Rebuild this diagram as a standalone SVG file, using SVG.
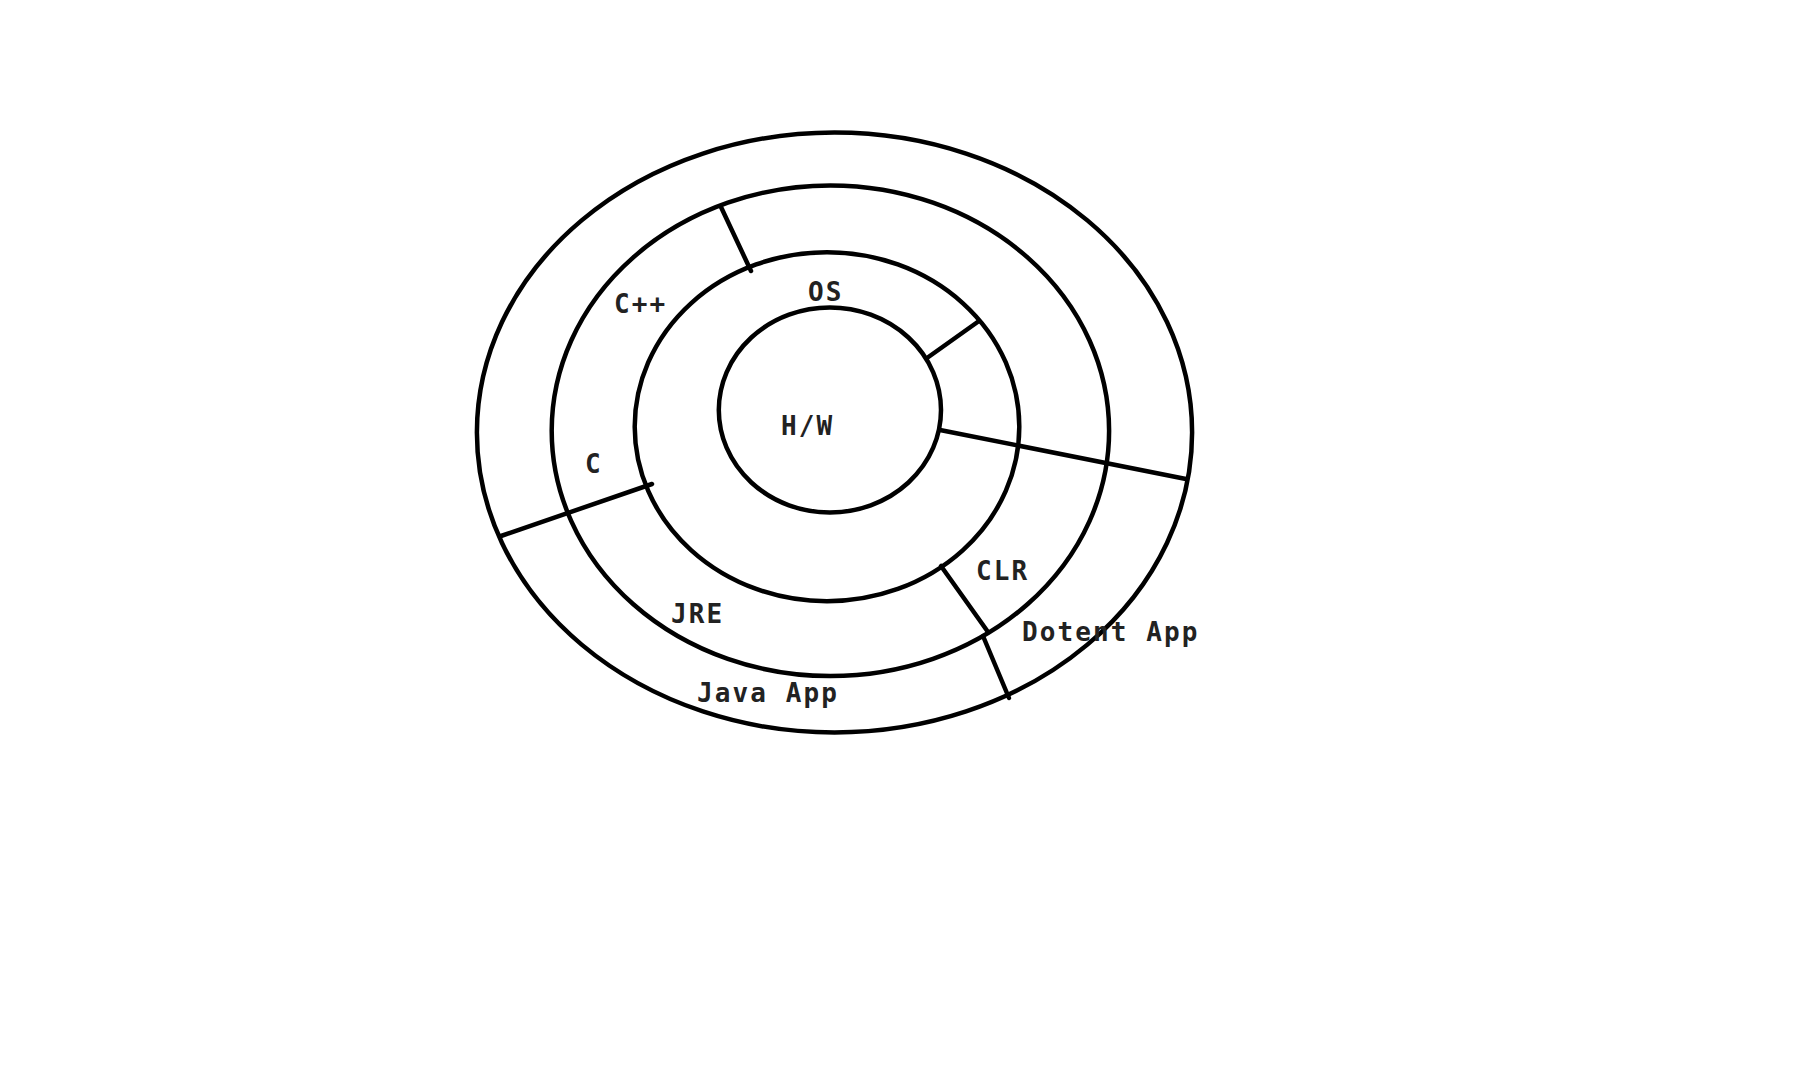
<svg xmlns="http://www.w3.org/2000/svg" width="1806" height="1082" viewBox="0 0 1806 1082">
<style>
.ring{fill:none;stroke:#000;stroke-width:4.5}
.div{stroke:#000;stroke-width:4.5;stroke-linecap:round}
.lbl{font-family:"DejaVu Sans Mono","Liberation Mono",monospace;font-size:26px;font-weight:bold;letter-spacing:2.1px;fill:#222}
</style>
<rect width="1806" height="1082" fill="#fff"/>
<g id="ring-app"><ellipse class="ring" cx="834.5" cy="432.5" rx="357.6" ry="300"/></g>
<g id="ring-runtime"><ellipse class="ring" cx="830.4" cy="430.8" rx="278.7" ry="245.3"/></g>
<g id="ring-os"><ellipse class="ring" cx="827" cy="426.7" rx="192.3" ry="174.5"/></g>
<g id="ring-hw"><ellipse class="ring" cx="829.9" cy="410" rx="111.1" ry="102.5"/></g>
<g id="connectors">
<line class="div" x1="721" y1="207" x2="751" y2="271"/>
<line class="div" x1="927" y1="358" x2="979" y2="321"/>
<line class="div" x1="940" y1="430" x2="1186" y2="479"/>
<line class="div" x1="501" y1="536" x2="652" y2="484"/>
<line class="div" x1="941" y1="566" x2="988" y2="632"/>
<line class="div" x1="983" y1="636" x2="1009" y2="698"/>
</g>
<g id="labels">
<text class="lbl" x="614" y="313">C++</text>
<text class="lbl" x="808" y="301">OS</text>
<text class="lbl" x="781" y="435">H/W</text>
<text class="lbl" x="585" y="473">C</text>
<text class="lbl" x="976" y="580">CLR</text>
<text class="lbl" x="671" y="623">JRE</text>
<text class="lbl" x="697" y="702">Java App</text>
<text class="lbl" x="1022" y="641">Dotent App</text>
</g>
</svg>
